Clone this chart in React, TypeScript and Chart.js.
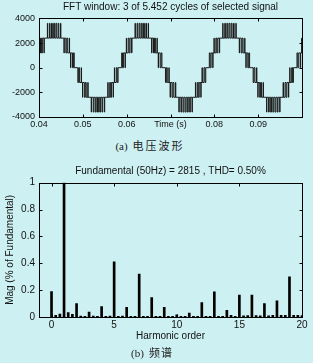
import React, { useEffect, useRef } from 'react';
import { Chart, registerables } from 'chart.js';

Chart.register(...registerables);

// ---------- (a) voltage waveform ----------
// Switching pattern of one positive half-cycle:
// edge times in ms relative to the half-cycle centre and the level after each edge (in 1200 V steps)
const edgeOffsetsMs = [
  -4.595, -4.405, -4.1875, -3.8125, -3.75, -3.525, -3.475, -3.105, -2.895, -2.6775,
  -2.3225, -2.239, -1.5375, -1.4625, -1.075, -0.925, -0.5975, -0.4025, -0.105,
  0.105, 0.4025, 0.5975, 0.925, 1.075, 1.4625, 1.5375, 2.239, 2.3225, 2.6775,
  2.895, 3.105, 3.475, 3.525, 3.75, 3.8125, 4.1875, 4.405, 4.595,
];
const edgeLevels = [
  1, 0, 1, 0, 1, 2, 1, 2, 1, 2, 1, 2, 3, 2, 3, 2, 3, 2, 3,
  2, 3, 2, 3, 2, 3, 2, 1, 2, 1, 2, 1, 2, 1, 0, 1, 0, 1, 0,
];
const halfCentersMs = [33.45, 43.45, 53.45, 63.45, 73.45, 83.45, 93.45, 103.45];
const halfSigns = [-1, 1, -1, 1, -1, 1, -1, 1];
const levelStepV = 1200;

const timeTicks = [0.04, 0.05, 0.06, 0.07, 0.08, 0.09];
const timeTickLabels = ['0.04', '0.05', '0.06', 'Time (s)', '0.08', '0.09'];
const voltTicks = [-4000, -2000, 0, 2000, 4000];
const voltTickLabels = ['-4000', '-2000', '0', '2000', '4000'];

// ---------- (b) spectrum ----------
const harmonicOrders = [
  0, 1 / 3, 2 / 3, 1, 4 / 3, 5 / 3, 2, 7 / 3, 8 / 3, 3, 10 / 3, 11 / 3, 4, 13 / 3, 14 / 3,
  5, 16 / 3, 17 / 3, 6, 19 / 3, 20 / 3, 7, 22 / 3, 23 / 3, 8, 25 / 3, 26 / 3, 9, 28 / 3, 29 / 3,
  10, 31 / 3, 32 / 3, 11, 34 / 3, 35 / 3, 12, 37 / 3, 38 / 3, 13, 40 / 3, 41 / 3, 14, 43 / 3, 44 / 3,
  15, 46 / 3, 47 / 3, 16, 49 / 3, 50 / 3, 17, 52 / 3, 53 / 3, 18, 55 / 3, 56 / 3, 19, 58 / 3, 59 / 3, 20,
];
const harmonicMags = [
  0.19, 0.012, 0.022, 1.0, 0.032, 0.02, 0.1, 0.006, 0.005, 0.037, 0.006, 0.005, 0.077, 0.005, 0.006,
  0.41, 0.005, 0.006, 0.072, 0.005, 0.005, 0.32, 0.005, 0.005, 0.145, 0.005, 0.005, 0.072, 0.005, 0.005,
  0.016, 0.005, 0.005, 0.03, 0.005, 0.005, 0.107, 0.005, 0.005, 0.187, 0.005, 0.005, 0.05, 0.012, 0.005,
  0.164, 0.008, 0.01, 0.164, 0.01, 0.008, 0.1, 0.008, 0.012, 0.12, 0.012, 0.012, 0.3, 0.012, 0.012, 0.01,
];
const orderTicks = [0, 5, 10, 15, 20];
const magTicks = [0, 0.2, 0.4, 0.6, 0.8, 1];
const magTickLabels = ['0', '0.2', '0.4', '0.6', '0.8', '1'];

const BG = '#cdf0f2';
const INK = '#111';
const FAMILY = '"Liberation Sans", Arial, Helvetica, sans-serif';

const framePlugin = {
  id: 'matlabFrame',
  afterDraw(chart: any) {
    const { ctx, chartArea: a, scales } = chart;
    const L = Math.round(a.left) + 0.5;
    const R = Math.round(a.right) + 0.5;
    const T = Math.round(a.top) + 0.5;
    const B = Math.round(a.bottom) + 0.5;
    ctx.save();
    ctx.strokeStyle = '#000';
    ctx.lineWidth = 1;
    ctx.strokeRect(L, T, R - L, B - T);
    const len = 3;
    ctx.beginPath();
    scales.x.ticks.forEach((t: any) => {
      const px = Math.round(scales.x.getPixelForValue(t.value)) + 0.5;
      ctx.moveTo(px, B);
      ctx.lineTo(px, B - len);
      ctx.moveTo(px, T);
      ctx.lineTo(px, T + len);
    });
    scales.y.ticks.forEach((t: any) => {
      const py = Math.round(scales.y.getPixelForValue(t.value)) + 0.5;
      ctx.moveTo(L, py);
      ctx.lineTo(L + len, py);
      ctx.moveTo(R, py);
      ctx.lineTo(R - len, py);
    });
    ctx.stroke();
    ctx.restore();
  },
};

function buildWave() {
  const pts: { x: number; y: number }[] = [];
  halfCentersMs.forEach((c, h) => {
    edgeOffsetsMs.forEach((off, i) => {
      pts.push({ x: (c + off) / 1000, y: halfSigns[h] * edgeLevels[i] * levelStepV });
    });
  });
  return pts;
}

const noGrid = { display: false, drawTicks: false };

export default function App() {
  const topRef = useRef<HTMLCanvasElement>(null);
  const botRef = useRef<HTMLCanvasElement>(null);

  useEffect(() => {
    const tickFont = { family: FAMILY, size: 9 };
    const tickFontB = { family: FAMILY, size: 10 };
    const top = new Chart(topRef.current as HTMLCanvasElement, {
      type: 'line',
      data: {
        datasets: [
          {
            data: buildWave(),
            stepped: true,
            borderColor: '#1a1a1a',
            borderWidth: 1,
            pointRadius: 0,
            fill: false,
            clip: 0,
          } as any,
        ],
      },
      options: {
        animation: false,
        responsive: false,
        events: [],
        layout: { padding: { left: 0, right: 11, top: 0, bottom: 0 } },
        plugins: {
          legend: { display: false },
          tooltip: { enabled: false },
          title: {
            display: true,
            fullSize: false,
            text: 'FFT window: 3 of 5.452 cycles of selected signal',
            color: INK,
            font: { family: FAMILY, size: 10, weight: 'normal', lineHeight: 1.2 },
            padding: { top: 1.2, bottom: 5.2 },
          },
        },
        scales: {
          x: {
            type: 'linear',
            min: 0.04,
            max: 0.1,
            afterBuildTicks: (s: any) => {
              s.ticks = timeTicks.map((v) => ({ value: v }));
            },
            afterFit: (s: any) => {
              s.height = 13;
            },
            grid: noGrid,
            border: { display: false },
            ticks: {
              padding: 2,
              maxRotation: 0,
              autoSkip: false,
              color: INK,
              font: tickFont,
              callback: (_v: any, i: number) => timeTickLabels[i],
            },
          },
          y: {
            type: 'linear',
            min: -4000,
            max: 4000,
            afterBuildTicks: (s: any) => {
              s.ticks = voltTicks.map((v) => ({ value: v }));
            },
            afterFit: (s: any) => {
              s.width = 39;
            },
            grid: noGrid,
            border: { display: false },
            ticks: {
              padding: 4,
              color: INK,
              font: tickFont,
              callback: (_v: any, i: number) => voltTickLabels[i],
            },
          },
        },
      } as any,
      plugins: [framePlugin],
    });

    const bot = new Chart(botRef.current as HTMLCanvasElement, {
      type: 'bar',
      data: {
        datasets: [
          {
            data: harmonicOrders.map((o, i) => ({ x: o, y: harmonicMags[i] })),
            backgroundColor: '#000',
            borderWidth: 0,
            barThickness: 2,
          } as any,
        ],
      },
      options: {
        animation: false,
        responsive: false,
        events: [],
        layout: { padding: { left: 0, right: 11, top: 0, bottom: 0 } },
        plugins: {
          legend: { display: false },
          tooltip: { enabled: false },
          title: {
            display: true,
            fullSize: false,
            text: 'Fundamental (50Hz) = 2815 , THD= 0.50%',
            color: INK,
            font: { family: FAMILY, size: 10, weight: 'normal', lineHeight: 1.2 },
            padding: { top: 15.7, bottom: 5 },
          },
        },
        scales: {
          x: {
            type: 'linear',
            min: -1,
            max: 20,
            offset: false,
            afterBuildTicks: (s: any) => {
              s.ticks = orderTicks.map((v) => ({ value: v }));
            },
            afterFit: (s: any) => {
              s.height = 28;
            },
            grid: noGrid,
            border: { display: false },
            title: {
              display: true,
              text: 'Harmonic order',
              color: INK,
              font: { family: FAMILY, size: 10, lineHeight: 1.2 },
              padding: { top: 0, bottom: 2.4 },
            },
            ticks: {
              padding: 2.5,
              maxRotation: 0,
              autoSkip: false,
              color: INK,
              font: tickFontB,
              callback: (v: any) => String(v),
            },
          },
          y: {
            type: 'linear',
            min: 0,
            max: 1,
            afterBuildTicks: (s: any) => {
              s.ticks = magTicks.map((v) => ({ value: v }));
            },
            afterFit: (s: any) => {
              s.width = 39;
            },
            grid: noGrid,
            border: { display: false },
            title: {
              display: true,
              text: 'Mag (% of Fundamental)',
              color: INK,
              font: { family: FAMILY, size: 10, lineHeight: 1.2 },
              padding: { top: 4, bottom: 0 },
            },
            ticks: {
              padding: 4,
              color: INK,
              font: tickFontB,
              callback: (_v: any, i: number) => magTickLabels[i],
            },
          },
        },
      } as any,
      plugins: [framePlugin],
    });

    return () => {
      top.destroy();
      bot.destroy();
    };
  }, []);

  const captionStyle: React.CSSProperties = {
    position: 'absolute',
    left: 0,
    width: 300,
    textAlign: 'center',
    fontSize: 11,
    lineHeight: '14px',
    color: '#222',
    whiteSpace: 'nowrap',
  };

  return (
    <div
      style={{
        position: 'absolute',
        left: 0,
        top: 0,
        width: 313,
        height: 363,
        background: BG,
        overflow: 'hidden',
      }}
    >
      <canvas ref={topRef} width={313} height={130} style={{ position: 'absolute', left: 0, top: 0 }} />
      <div style={{ ...captionStyle, top: 138 }}>
        <span style={{ fontFamily: '"Liberation Serif", "DejaVu Serif", serif' }}>(a)</span>
        <span style={{ fontFamily: '"Noto Sans CJK SC", sans-serif', marginLeft: 5, letterSpacing: 2 }}>电压波形</span>
      </div>
      <canvas ref={botRef} width={313} height={195} style={{ position: 'absolute', left: 0, top: 150 }} />
      <div style={{ ...captionStyle, top: 345, width: 304 }}>
        <span style={{ fontFamily: '"Liberation Serif", "DejaVu Serif", serif' }}>(b)</span>
        <span style={{ fontFamily: '"Noto Sans CJK SC", sans-serif', marginLeft: 5, letterSpacing: 1 }}>频谱</span>
      </div>
    </div>
  );
}
